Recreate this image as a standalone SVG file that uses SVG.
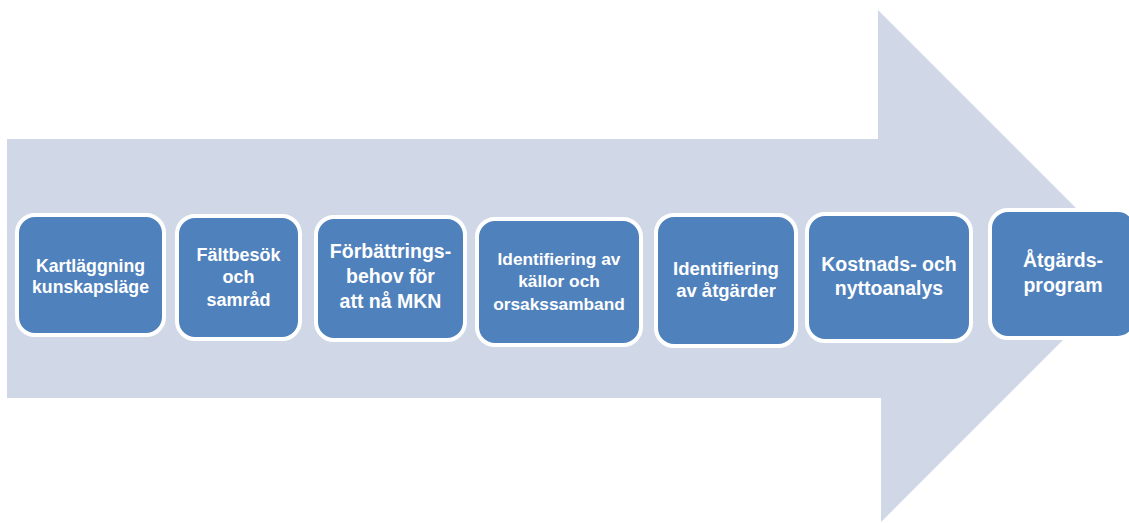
<svg xmlns="http://www.w3.org/2000/svg" width="1129" height="523" viewBox="0 0 1129 523">
<style>
.node rect{fill:#4F81BD;stroke:#FFFFFF;stroke-width:4}
.node text{fill:#FFFFFF;font-family:"Liberation Sans",Arial,sans-serif;font-weight:bold;text-anchor:middle}
</style>
<rect width="1129" height="523" fill="#FFFFFF"/>
<g id="connectors">
<polygon points="7,139 878,139 878,10 1135.5,267.5 881,522 881,398 7,398" fill="#D0D8E8"/>
</g>
<g id="n1" class="node">
<rect x="17" y="215" width="147" height="120" rx="18"/>
<text font-size="17.7"><tspan x="90.5" y="272">Kartläggning</tspan><tspan x="90.5" y="293">kunskapsläge</tspan></text>
</g>
<g id="n2" class="node">
<rect x="177" y="216" width="123" height="123" rx="18"/>
<text font-size="18"><tspan x="238.5" y="261">Fältbesök</tspan><tspan x="238.5" y="283">och</tspan><tspan x="238.5" y="306">samråd</tspan></text>
</g>
<g id="n3" class="node">
<rect x="316" y="217" width="149" height="123" rx="18"/>
<text font-size="19.5"><tspan x="390.5" y="258">Förbättrings-</tspan><tspan x="390.5" y="283">behov för</tspan><tspan x="390.5" y="308">att nå MKN</tspan></text>
</g>
<g id="n4" class="node">
<rect x="477" y="219" width="164" height="126" rx="18"/>
<text font-size="17.3"><tspan x="559" y="265">Identifiering av</tspan><tspan x="559" y="287">källor och</tspan><tspan x="559" y="310">orsakssamband</tspan></text>
</g>
<g id="n5" class="node">
<rect x="656" y="215" width="140" height="131" rx="18"/>
<text font-size="18.5"><tspan x="726" y="275">Identifiering</tspan><tspan x="726" y="297">av åtgärder</tspan></text>
</g>
<g id="n6" class="node">
<rect x="807" y="214" width="164" height="127" rx="18"/>
<text font-size="19.5"><tspan x="889" y="271">Kostnads- och</tspan><tspan x="889" y="295">nyttoanalys</tspan></text>
</g>
<g id="n7" class="node">
<rect x="990" y="210" width="146" height="128" rx="18"/>
<text font-size="19.5"><tspan x="1063" y="267">Åtgärds-</tspan><tspan x="1063" y="292">program</tspan></text>
</g>
</svg>
